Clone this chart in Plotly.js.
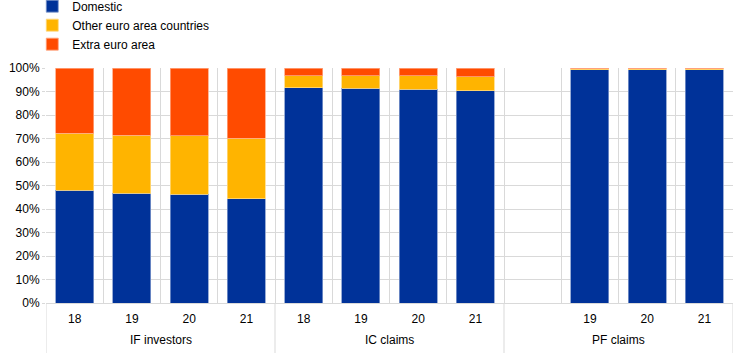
<!DOCTYPE html>
<html>
<head>
<meta charset="utf-8">
<script src="https://cdn.plot.ly/plotly-3.0.1.min.js"></script>
<style>html,body{margin:0;padding:0;background:#fff;}#chart{width:744px;height:353px;}</style>
</head>
<body>
<div id="chart"></div>
<script>
const groups = ["IF investors","IF investors","IF investors","IF investors",
                "IC claims","IC claims","IC claims","IC claims",
                "PF claims","PF claims","PF claims","PF claims"];
const years = ["18","19","20","21","18","19","20","21","","19","20","21"];
const groupNames = ["IF investors","IC claims","PF claims"];
const domestic = [48.0, 46.8, 46.3, 44.4, 91.7, 91.3, 91.0, 90.4, null, 99.2, 99.2, 99.2];
const otherEuro = [24.2, 24.6, 24.9, 25.8, 4.9, 5.3, 5.6, 5.9, null, 0.5, 0.5, 0.5];
const extraEuro = [27.8, 28.6, 28.8, 29.8, 3.4, 3.4, 3.4, 3.7, null, 0.3, 0.3, 0.3];
const seriesNames = ["Domestic","Other euro area countries","Extra euro area"];
const yTicks = [0,10,20,30,40,50,60,70,80,90,100];
const yTickText = ["0%","10%","20%","30%","40%","50%","60%","70%","80%","90%","100%"];
const colors = ["#003299","#FFB400","#FF4B00"];
const lineColors = ["#7f98cc","#ffd97f","#ffa57f"];

// unique category keys built from the group + year arrays
const cats = groups.map((g,i)=>g+"|"+(years[i]||"blank"));

const data = [domestic, otherEuro, extraEuro].map((v,i)=>({
  type:"bar", x:cats, y:v, name:seriesNames[i],
  marker:{color:colors[i], line:{color:lineColors[i], width:0.8}},
  hoverinfo:"skip"
}));

// group label annotations and group dividers, placed via category indices
const annotations = [];
const shapes = [];
groupNames.forEach(g=>{
  const idx = groups.map((gg,i)=>gg===g?i:-1).filter(i=>i>=0);
  const first = idx[0], last = idx[idx.length-1];
  annotations.push({x:(first+last)/2, xref:"x", y:-0.157, yref:"paper", text:g,
    showarrow:false, xanchor:"center", yanchor:"middle", font:{size:12, color:"#000"}});
  shapes.push({type:"line", xref:"x", yref:"paper", x0:first-0.5, x1:first-0.5, y0:0, y1:-0.215,
    line:{color:"#d9d9d9", width:1}});
  if (g===groupNames[groupNames.length-1]) {
    shapes.push({type:"line", xref:"x", yref:"paper", x0:last+0.5, x1:last+0.5, y0:0, y1:-0.215,
      line:{color:"#d9d9d9", width:1}});
  }
});

const layout = {
  width:744, height:353,
  margin:{l:46, r:11, t:68, b:50, autoexpand:false},
  barmode:"stack", bargap:0.34,
  paper_bgcolor:"#fff", plot_bgcolor:"#fff",
  font:{family:"Liberation Sans, Arial, sans-serif", size:12, color:"#000"},
  showlegend:true,
  legend:{x:-0.02, y:1.325, xanchor:"left", yanchor:"top", tracegroupgap:0,
          traceorder:"normal", font:{size:12, color:"#000"}, itemwidth:30, bgcolor:"rgba(0,0,0,0)"},
  xaxis:{type:"category", categoryorder:"array", categoryarray:cats,
         tickmode:"array", tickvals:cats, ticktext:years,
         tickson:"boundaries", showgrid:true, gridcolor:"#d9d9d9", gridwidth:1,
         ticks:"", ticklabelstandoff:5, showline:true, linecolor:"#d9d9d9",
         tickfont:{size:12, color:"#000"}, range:[-0.5, cats.length-0.5]},
  yaxis:{range:[0,100], tickmode:"array", tickvals:yTicks, ticktext:yTickText,
         showgrid:true, gridcolor:"#d9d9d9", gridwidth:1, zeroline:false, showline:false,
         ticks:"outside", ticklen:3, tickcolor:"#d9d9d9", tickfont:{size:12, color:"#000"}},
  annotations:annotations,
  shapes:shapes
};
Plotly.newPlot("chart", data, layout, {staticPlot:true, displayModeBar:false});
</script>
</body>
</html>
